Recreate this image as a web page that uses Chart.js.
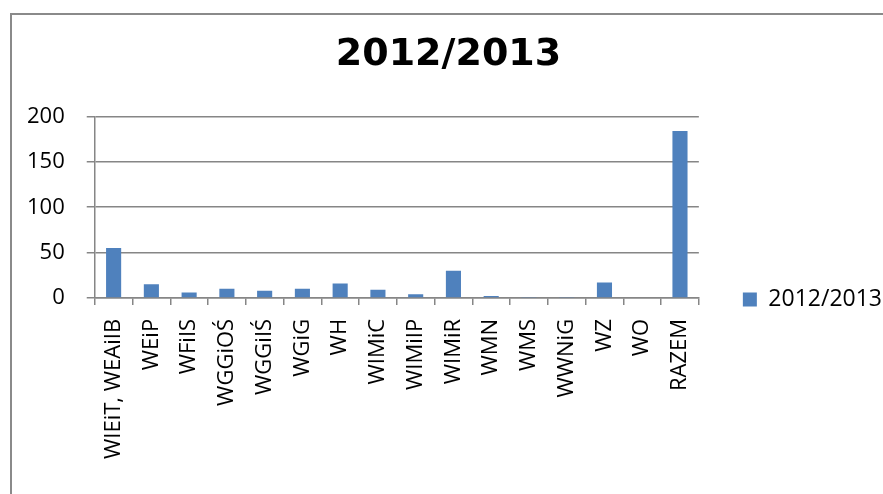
<!DOCTYPE html>
<html>
<head>
<meta charset="utf-8">
<script src="https://cdn.jsdelivr.net/npm/chart.js@4.4.0/dist/chart.umd.min.js"></script>
<style>
    body { margin: 0; background: #fff; overflow: hidden; }
    #ramka {
        position: absolute;
        left: 10px;
        top: 13px;
        width: 880px;
        height: 490px;
        border-left: 2px solid #8a8a8a;
        border-top: 2px solid #8a8a8a;
    }
    #wykres { display: block; position: relative; left: -7px; }
</style>
</head>
<body>
<div id="ramka">
    <canvas id="wykres" width="887" height="481"></canvas>
</div>
<script>
// Dane wykresu
const wydzialy = ['WIEiT, WEAiIB', 'WEiP', 'WFiIS', 'WGGiOŚ', 'WGGiIŚ', 'WGiG', 'WH', 'WIMiC',
    'WIMiIP', 'WIMiR', 'WMN', 'WMS', 'WWNiG', 'WZ', 'WO', 'RAZEM'];
const wartosci = [55, 15, 6, 10, 8, 10, 16, 9, 4, 30, 2, 1, 1, 17, 0, 184];
const nazwaSerii = '2012/2013';
const tytul = '2012/2013';
const osY = { min: 0, max: 200, krok: 50 };

const czcionka = '"Open Sans", "DejaVu Sans", sans-serif';
const szary = '#868686';

const config = {
    type: 'bar',
    data: {
        labels: wydzialy,
        datasets: [{
            label: nazwaSerii,
            data: wartosci,
            backgroundColor: '#4f81bd',
            borderWidth: 0,
            barPercentage: 0.4,
            categoryPercentage: 1.0
        }]
    },
    options: {
        responsive: false,
        animation: false,
        layout: {
            padding: { left: 0, right: 0, top: 0, bottom: 23 }
        },
        plugins: {
            title: {
                display: true,
                text: tytul,
                color: '#000',
                font: { family: '"DejaVu Sans", Verdana, sans-serif', size: 38, weight: 'bold' },
                padding: { top: 17, bottom: 39 }
            },
            legend: {
                position: 'right',
                // pusty tytul legendy tylko po to, zeby zsunac ja nizej
                title: { display: true, text: '', font: { size: 10 }, padding: { top: 99, bottom: 0 } },
                labels: {
                    color: '#000',
                    font: { family: czcionka, size: 23 },
                    boxWidth: 14,
                    boxHeight: 14,
                    padding: 44
                }
            },
            tooltip: { enabled: false }
        },
        scales: {
            x: {
                offset: true,
                grid: {
                    offset: true,
                    drawOnChartArea: false,
                    drawTicks: true,
                    tickLength: 7,
                    color: szary,
                    lineWidth: 1.5
                },
                border: { display: true, color: szary, width: 1.5 },
                ticks: {
                    color: '#000',
                    font: { family: czcionka, size: 22 },
                    maxRotation: 90,
                    minRotation: 90,
                    padding: 14,
                    autoSkip: false
                }
            },
            y: {
                min: osY.min,
                max: osY.max,
                grid: {
                    color: szary,
                    lineWidth: 1.5,
                    tickLength: 8
                },
                border: { display: true, color: szary, width: 1.5 },
                ticks: {
                    stepSize: osY.krok,
                    color: '#000',
                    font: { family: czcionka, size: 22 },
                    padding: 22
                }
            }
        }
    }
};

const ctx = document.getElementById('wykres').getContext('2d');
const wykres = new Chart(ctx, config);
</script>
</body>
</html>
